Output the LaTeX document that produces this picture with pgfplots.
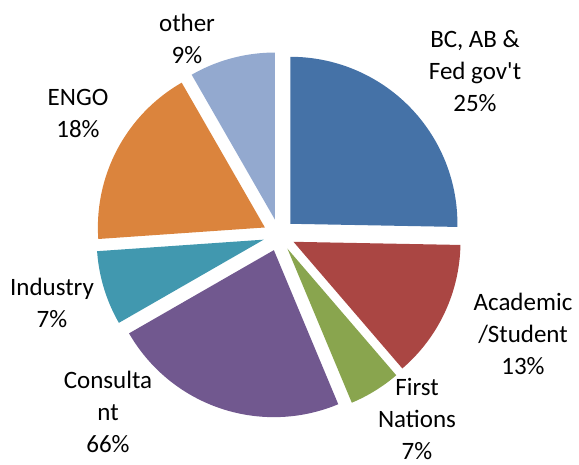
\documentclass[border=0pt]{standalone}
\usepackage{pgfplots}
\pgfplotsset{compat=1.18}
\usepackage{fontspec}
\setmainfont{Carlito}

\definecolor{cBlue}{HTML}{4572A7}
\definecolor{cRed}{HTML}{AA4643}
\definecolor{cGreen}{HTML}{89A54E}
\definecolor{cPurple}{HTML}{71588F}
\definecolor{cTeal}{HTML}{4198AF}
\definecolor{cOrange}{HTML}{DB843D}
\definecolor{cOther}{HTML}{93A9CF}

% pie geometry in pixel units (origin bottom left)
\def\cx{279}\def\cy{229}\def\rad{167}\def\expl{16}

% #1 start share (%), #2 end share (%), #3 colour; clockwise from 12 o'clock
\newcommand{\slice}[3]{%
  \pgfmathsetmacro{\angA}{90-3.6*#1}%
  \pgfmathsetmacro{\angB}{90-3.6*#2}%
  \pgfmathsetmacro{\angM}{(\angA+\angB)/2}%
  \pgfmathsetmacro{\ox}{\cx+\expl*cos(\angM)}%
  \pgfmathsetmacro{\oy}{\cy+\expl*sin(\angM)}%
  \edef\doslice{\noexpand\addplot[fill=#3, draw=none, domain=\angB:\angA,
    samples=80, variable=\noexpand\t]
    ({\ox+\rad*cos(\noexpand\t)}, {\oy+\rad*sin(\noexpand\t)})
    -- (axis cs:\ox,\oy) -- cycle;}%
  \doslice
}

\begin{document}
\begin{tikzpicture}
\begin{axis}[
    scale only axis,
    width=579pt, height=464pt,
    xmin=0, xmax=579, ymin=0, ymax=464,
    hide axis, clip=false,
]
\path (axis cs:0,0) rectangle (axis cs:579,464);
% shares: 25.3, 13.4, 5.0, 23.0, 7.2, 17.8, 8.3
\slice{0}{25.3}{cBlue}
\slice{25.3}{38.7}{cRed}
\slice{38.7}{43.7}{cGreen}
\slice{43.7}{66.7}{cPurple}
\slice{66.7}{73.9}{cTeal}
\slice{73.9}{91.7}{cOrange}
\slice{91.7}{100}{cOther}

\begin{scope}[every node/.style={align=center, font=\fontsize{25}{32}\selectfont, inner sep=0pt}]
\node at (axis cs:475,{464-71}) {BC, AB \&\\Fed gov\textquotesingle t\\25\%};
\node at (axis cs:523,{464-334}) {Academic\\/Student\\13\%};
\node at (axis cs:417,{464-419}) {First\\Nations\\7\%};
\node at (axis cs:108,{464-412}) {Consulta\\nt\\66\%};
\node at (axis cs:52,{464-303}) {Industry\\7\%};
\node at (axis cs:78,{464-113}) {ENGO\\18\%};
\node at (axis cs:187,{464-39}) {other\\9\%};
\end{scope}
\end{axis}
\end{tikzpicture}
\end{document}
